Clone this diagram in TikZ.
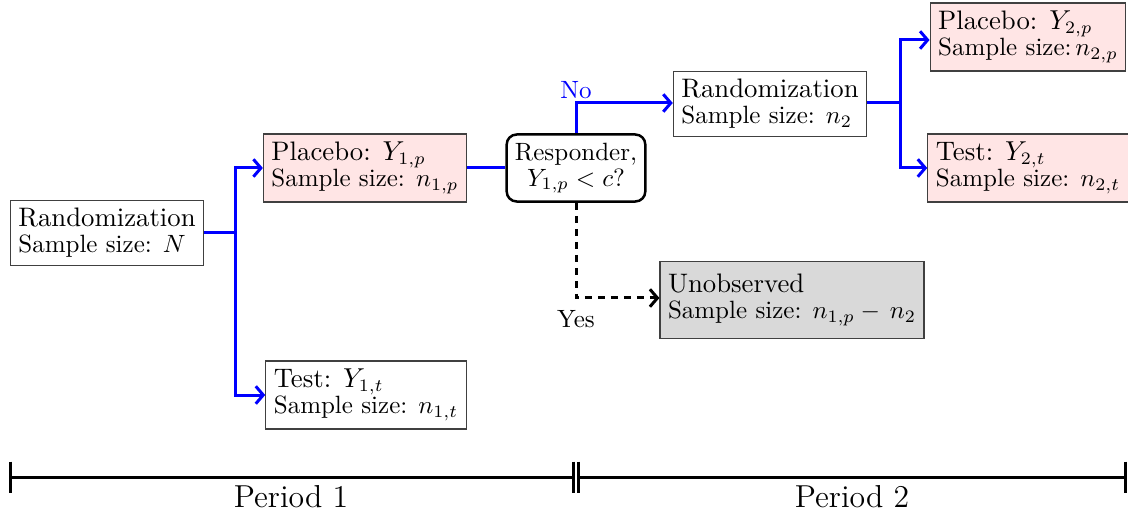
\documentclass[tikz,border=0pt]{standalone}
\usetikzlibrary{arrows.meta}
\begin{document}
\begin{tikzpicture}[x=0.4pt,y=-0.4pt,
  box/.style={draw=black!75, line width=0.5pt, align=left, inner sep=3.2pt,
    font=\fontsize{10}{10.4}\selectfont},
  redbox/.style={box, fill=red!10},
  graybox/.style={box, fill=black!15, inner ysep=5pt},
  decision/.style={draw=black, line width=1pt, rounded corners=4pt, align=center,
    inner sep=3.3pt, font=\fontsize{10}{10.4}\selectfont},
  flow/.style={draw=blue, line width=1.2pt},
  flowarrow/.style={flow, -{Straight Barb[length=3pt,width=7pt]}},
  skip/.style={draw=black, line width=1.2pt, dashed, dash pattern=on 3pt off 2.2pt,
    -{Straight Barb[length=3pt,width=7pt]}},
  timeline/.style={draw=black, line width=1.2pt},
  lbl/.style={font=\fontsize{10}{12}\selectfont, inner sep=1pt},
]
\newcommand{\headline}[1]{{\fontsize{10.7}{10.4}\selectfont #1}}
\useasboundingbox (0,0) rectangle (1128,519);

% period 1
\node[box] (r1) at (107,233) {\headline{Randomization}\\Sample size: $N$};
\node[redbox] (p1) at (365,168) {\headline{Placebo: $Y_{1,p}$}\\Sample size: $n_{1,p}$};
\node[box] (t1) at (366,395) {\headline{Test: $Y_{1,t}$}\\Sample size: $n_{1,t}$};
\node[decision] (resp) at (576,168) {Responder,\\$Y_{1,p} < c$?};

% period 2
\node[box] (r2) at (770,104) {\headline{Randomization}\\Sample size: $n_2$};
\node[redbox] (p2) at (1028,37) {\headline{Placebo: $Y_{2,p}$}\\Sample size:\hspace{1.5pt}$n_{2,p}$};
\node[redbox] (t2) at (1028,168) {\headline{Test: $Y_{2,t}$}\\Sample size: $n_{2,t}$};
\node[graybox] (u) at (792,300) {\headline{Unobserved}\\Sample size: $n_{1,p} -\,n_2$};

% first randomization
\coordinate (s1) at (235,233);
\draw[flow] (r1.east) -- (s1);
\draw[flowarrow] (s1) |- (p1.west);
\draw[flowarrow] (s1) |- (t1.west);
\draw[flow] (p1.east) -- (resp.west);

% responder decision
\coordinate (no) at (576,103);
\coordinate (yes) at (576,298);
\draw[flowarrow] (resp.north) -- (no) -- (r2.west |- no);
\node[lbl, text=blue] (nolbl) at (576,90) {No};
\draw[skip] (resp.south) -- (yes) -- (u.west |- yes);
\node[lbl] (yeslbl) at (576,319) {Yes};

% second randomization
\coordinate (s2) at (900,103);
\draw[flow] (r2.east |- s2) -- (s2);
\draw[flowarrow] (s2) |- (p2.west |- 0,40);
\draw[flowarrow] (s2) |- (t2.west);

% time axis
\coordinate (a0) at (10,477);
\coordinate (a1) at (573,477);
\coordinate (a2) at (578,477);
\coordinate (a3) at (1125,477);
\draw[timeline] (a0) -- (a1) (a2) -- (a3);
\foreach \c in {a0,a1,a2,a3}
  \draw[timeline] ([yshift=6.2pt]\c) -- ([yshift=-6.2pt]\c);
\node[font=\fontsize{12.7}{15}\selectfont] (per1) at (291,497) {Period 1};
\node[font=\fontsize{12.7}{15}\selectfont] (per2) at (852,497) {Period 2};
\end{tikzpicture}
\end{document}
